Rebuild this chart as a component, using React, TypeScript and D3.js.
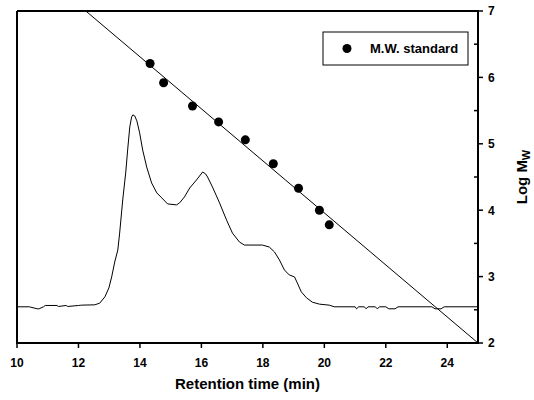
import React from "react";
import * as d3 from "d3";

// M.W. standards (retention time, log Mw)
const stdTime = [14.33, 14.77, 15.71, 16.56, 17.43, 18.34, 19.16, 19.84, 20.16];
const stdLogMw = [6.21, 5.92, 5.57, 5.33, 5.06, 4.7, 4.33, 4.0, 3.78];

// calibration fit line end points
const fitTime = [12.24, 25];
const fitLogMw = [7, 2];

// chromatogram (detector signal, arbitrary units 0-100)
const traceTime = [
  10.0, 10.4, 10.66, 10.72, 10.86, 10.92, 11.3, 11.35, 11.6, 11.65, 12.0, 12.1, 12.53,
  12.69, 12.86, 12.99, 13.08, 13.18, 13.28, 13.34, 13.44, 13.54, 13.6, 13.67, 13.73,
  13.77, 13.83, 13.9, 13.99, 14.09, 14.22, 14.38, 14.55, 14.71, 14.9, 15.19, 15.29,
  15.45, 15.62, 15.84, 16.04, 16.14, 16.2, 16.36, 16.59, 16.82, 17.01, 17.24, 17.4,
  17.99, 18.21, 18.38, 18.54, 18.7, 18.86, 19.03, 19.12, 19.25, 19.42, 19.61, 19.84,
  20.16, 20.32, 21.0, 21.05, 21.12, 21.3, 21.36, 21.42, 21.66, 21.72, 21.8, 22.0,
  22.1, 22.3, 22.4, 23.5, 23.6, 23.8, 23.9, 25.0,
];
const traceSignal = [
  10.9, 10.9, 10.3, 10.3, 10.9, 11.3, 11.3, 11.0, 11.3, 11.0, 11.3, 11.4, 11.5,
  12.0, 13.9, 16.6, 19.9, 24.4, 28.0, 33.1, 43.1, 51.5, 58.1, 65.1, 68.1,
  68.7, 68.4, 66.9, 63.3, 58.1, 53.0, 48.2, 45.2, 43.7, 41.9, 41.6, 42.2,
  44.0, 46.7, 49.1, 51.5, 50.9, 50.0, 47.0, 42.2, 37.0, 33.1, 30.4, 29.5,
  29.5, 28.9, 27.4, 25.0, 22.0, 20.5, 19.9, 18.1, 15.4, 13.6, 12.3, 11.7,
  11.4, 10.9, 10.9, 10.3, 10.9, 10.9, 10.3, 10.9, 10.9, 10.3, 10.9, 10.9,
  10.3, 10.3, 10.9, 10.9, 10.3, 10.3, 10.9, 10.9,
];

const xTicks = [10, 12, 14, 16, 18, 20, 22, 24];
const yTicks = [2, 3, 4, 5, 6, 7];
const yMinorTicks = [2.5, 3.5, 4.5, 5.5, 6.5];

const W = 534;
const H = 400;
const m = { left: 17, right: 478, top: 11, bottom: 343 };
const font = "'Liberation Sans', Arial, sans-serif";

export default function App() {
  const x = d3.scaleLinear().domain([10, 25]).range([m.left, m.right]);
  const y = d3.scaleLinear().domain([2, 7]).range([m.bottom, m.top]);
  const ySig = d3.scaleLinear().domain([0, 100]).range([m.bottom, m.top]);

  const traceLine = d3
    .line<number>()
    .x((_, i) => x(traceTime[i]))
    .y((s) => ySig(s));
  const fitLine = d3
    .line<number>()
    .x((_, i) => x(fitTime[i]))
    .y((v) => y(v));

  return (
    <svg
      width={W}
      height={H}
      style={{ position: "absolute", left: 0, top: 0, background: "#fff" }}
      fontFamily={font}
      fontWeight="bold"
    >
      <defs>
        <clipPath id="plot">
          <rect x={m.left} y={m.top} width={m.right - m.left} height={m.bottom - m.top} />
        </clipPath>
      </defs>

      <g clipPath="url(#plot)">
        <path d={traceLine(traceSignal) || ""} fill="none" stroke="#000" strokeWidth={1} />
        <path d={fitLine(fitLogMw) || ""} fill="none" stroke="#000" strokeWidth={1} />
      </g>

      {stdTime.map((t, i) => (
        <circle key={i} cx={x(t)} cy={y(stdLogMw[i])} r={4.5} fill="#000" />
      ))}

      {/* frame */}
      <line x1={m.left} x2={m.right} y1={m.top} y2={m.top} stroke="#000" strokeWidth={2} />
      <line x1={m.left} x2={m.left} y1={m.top} y2={m.bottom + 1} stroke="#000" strokeWidth={2} />
      <line x1={m.right} x2={m.right} y1={m.top - 1} y2={m.bottom + 1} stroke="#000" strokeWidth={2} />
      <line x1={m.left - 1} x2={m.right + 1} y1={m.bottom} y2={m.bottom} stroke="#000" strokeWidth={2} />

      {/* x axis */}
      {xTicks.map((t) => (
        <g key={t} transform={`translate(${x(t)},0)`}>
          <line y1={m.bottom} y2={m.bottom + 5} stroke="#000" strokeWidth={1.5} />
          <text y={m.bottom + 24} textAnchor="middle" fontSize={12}>
            {t}
          </text>
        </g>
      ))}
      <text x={(m.left + m.right) / 2} y={389} textAnchor="middle" fontSize={15}>
        Retention time (min)
      </text>

      {/* right axis */}
      {yTicks.map((v) => (
        <g key={v} transform={`translate(0,${y(v)})`}>
          <line x1={m.right} x2={m.right + 5} stroke="#000" strokeWidth={1.5} />
          <text x={m.right + 10} dy="0.36em" fontSize={12}>
            {v}
          </text>
        </g>
      ))}
      {yMinorTicks.map((v) => (
        <line key={v} x1={m.right - 4} x2={m.right} y1={y(v)} y2={y(v)} stroke="#000" strokeWidth={1.5} />
      ))}
      <text transform={`translate(527,${(m.top + m.bottom) / 2}) rotate(-90)`} textAnchor="middle" fontSize={15}>
        Log M<tspan fontSize={11} dy={3}>W</tspan>
      </text>

      {/* legend */}
      <rect x={323} y={32} width={145} height={33} fill="#fff" stroke="#000" strokeWidth={1} />
      <circle cx={347} cy={48.5} r={4.5} fill="#000" />
      <text x={370} y={53} fontSize={13}>
        M.W. standard
      </text>
    </svg>
  );
}
